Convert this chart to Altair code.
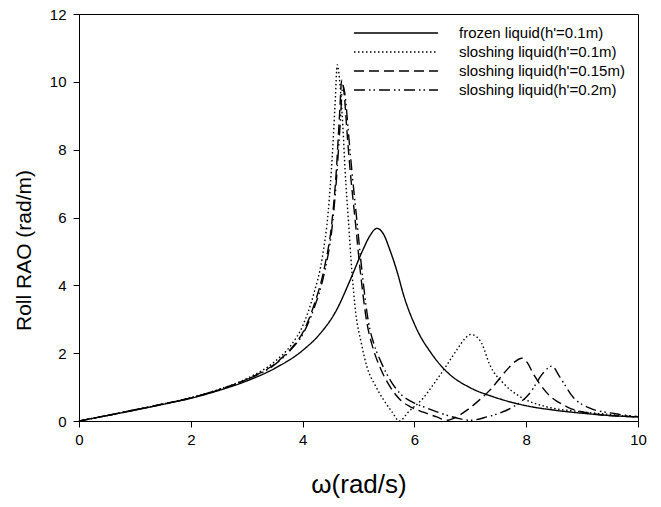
import altair as alt
import pandas as pd

# Series labels (legend order)
series_names = [
    "frozen liquid(h'=0.1m)",
    "sloshing liquid(h'=0.1m)",
    "sloshing liquid(h'=0.15m)",
    "sloshing liquid(h'=0.2m)",
]

# Frozen liquid, h' = 0.1 m
frozen_w = [0, 0.5, 1.0, 1.5, 2.0, 2.5, 3.0, 3.5, 4.0, 4.3, 4.6, 4.85, 5.08, 5.2,
            5.33, 5.45, 5.56, 5.7, 5.8, 6.03, 6.3, 6.58, 7.0, 7.4, 8.0, 8.5, 9.0, 9.5, 10.0]
frozen_rao = [0, 0.16, 0.32, 0.49, 0.67, 0.90, 1.18, 1.55, 2.08, 2.55, 3.25, 4.15, 5.05, 5.45,
              5.68, 5.5, 5.05, 4.35, 3.75, 2.75, 2.0, 1.45, 0.98, 0.72, 0.45, 0.32, 0.23, 0.16, 0.12]

# Sloshing liquid, h' = 0.1 m
slosh10_w = [0, 0.5, 1.0, 1.5, 2.0, 2.5, 3.0, 3.5, 3.8, 4.0, 4.2, 4.35, 4.46, 4.53, 4.58, 4.62,
             4.67, 4.72, 4.76, 4.82, 4.88, 4.95, 5.05, 5.15, 5.3, 5.45, 5.6, 5.73, 5.9, 6.16,
             6.35, 6.52, 6.76, 6.9, 7.0, 7.1, 7.2, 7.35, 7.6, 7.89, 8.36, 8.95, 9.5, 10.0]
slosh10_rao = [0, 0.16, 0.33, 0.5, 0.69, 0.93, 1.25, 1.75, 2.25, 2.8, 3.75, 4.8, 6.2, 7.8, 9.3, 10.5,
               9.9, 8.7, 7.4, 5.9, 4.45, 3.2, 2.3, 1.6, 1.05, 0.62, 0.27, 0.0, 0.28, 0.68,
               1.1, 1.5, 2.1, 2.42, 2.55, 2.5, 2.3, 1.65, 1.1, 0.72, 0.42, 0.28, 0.19, 0.12]

# Sloshing liquid, h' = 0.15 m
slosh15_w = [0, 0.5, 1.0, 1.5, 2.0, 2.5, 3.0, 3.5, 3.8, 4.0, 4.2, 4.4, 4.52, 4.6, 4.66, 4.70,
             4.74, 4.8, 4.85, 4.94, 5.03, 5.15, 5.25, 5.38, 5.55, 5.75, 5.95, 6.16, 6.4, 6.58,
             6.75, 6.94, 7.15, 7.35, 7.65, 7.8, 7.92, 8.02, 8.12, 8.37, 8.73, 9.26, 10.0]
slosh15_rao = [0, 0.16, 0.33, 0.5, 0.68, 0.92, 1.23, 1.68, 2.15, 2.6, 3.4, 4.6, 5.8, 7.3, 9.0, 10.05,
               9.7, 8.4, 7.4, 5.93, 4.45, 2.9, 2.2, 1.6, 1.05, 0.62, 0.4, 0.26, 0.12, 0.02,
               0.12, 0.32, 0.6, 0.91, 1.5, 1.75, 1.85, 1.72, 1.41, 0.83, 0.42, 0.2, 0.12]

# Sloshing liquid, h' = 0.2 m
slosh20_w = [0, 0.5, 1.0, 1.5, 2.0, 2.5, 3.0, 3.5, 3.8, 4.0, 4.2, 4.4, 4.52, 4.6, 4.67, 4.72,
             4.76, 4.82, 4.88, 4.97, 5.06, 5.18, 5.28, 5.4, 5.57, 5.75, 5.95, 6.16, 6.4, 6.58,
             6.8, 7.0, 7.3, 7.55, 7.77, 8.07, 8.3, 8.46, 8.6, 8.84, 9.14, 9.57, 10.0]
slosh20_rao = [0, 0.16, 0.33, 0.5, 0.68, 0.92, 1.22, 1.66, 2.12, 2.55, 3.3, 4.45, 5.6, 7.0, 8.7, 9.9,
               9.6, 8.5, 7.4, 5.93, 4.45, 2.9, 2.25, 1.75, 1.2, 0.8, 0.57, 0.42, 0.27, 0.17,
               0.07, 0.02, 0.12, 0.25, 0.42, 0.83, 1.41, 1.62, 1.3, 0.7, 0.38, 0.22, 0.13]

# Line styles: solid, dotted, dashed, dash-dot-dot
dash_styles = [[1, 0], [1.5, 2.5], [10, 5], [11, 4, 1.5, 3, 1.5, 4]]

frames = []
for name, w, r in zip(series_names,
                      [frozen_w, slosh10_w, slosh15_w, slosh20_w],
                      [frozen_rao, slosh10_rao, slosh15_rao, slosh20_rao]):
    frames.append(pd.DataFrame({"omega": w, "rao": r, "series": name}))
df = pd.concat(frames, ignore_index=True)

FONT = "Liberation Sans"

chart = alt.Chart(df).mark_line(
    color="black", strokeWidth=1.4, interpolate="monotone"
).encode(
    x=alt.X(
        "omega:Q",
        scale=alt.Scale(domain=[0, 10], nice=False, zero=False),
        axis=alt.Axis(
            values=[0, 2, 4, 6, 8, 10], title="ω(rad/s)", titleFontSize=26,
            titlePadding=24, labelFontSize=15, labelPadding=5, tickSize=6,
            labelFlush=False, labelOverlap=False, grid=False,
        ),
    ),
    y=alt.Y(
        "rao:Q",
        scale=alt.Scale(domain=[0, 12], nice=False, zero=False),
        axis=alt.Axis(
            values=[0, 2, 4, 6, 8, 10, 12], title="Roll RAO (rad/m)", titleFontSize=21,
            titleX=-45, titleY=236, labelFontSize=15, labelPadding=7, tickSize=6,
            labelFlush=False, labelOverlap=False, grid=False,
        ),
    ),
    strokeDash=alt.StrokeDash(
        "series:N",
        sort=series_names,
        scale=alt.Scale(domain=series_names, range=dash_styles),
        legend=alt.Legend(
            title=None, orient="none", legendX=274, legendY=9.5,
            symbolType="stroke", symbolSize=7056, symbolStrokeWidth=1.4,
            symbolStrokeColor="black", clipHeight=19, rowPadding=0, padding=0,
            labelFontSize=15, labelFont=FONT, labelColor="black", labelOffset=20,
            labelLimit=300,
        ),
    ),
).properties(
    width=559,
    height=407,
    autosize=alt.AutoSizeParams(type="none"),
    padding={"left": 79, "top": 14, "right": 23, "bottom": 86},
    background="white",
).configure_view(
    stroke="black", strokeWidth=1
).configure_axis(
    domainColor="black", tickColor="black", labelColor="black", titleColor="black",
    labelFont=FONT, titleFont=FONT, titleFontWeight="normal", domainWidth=1, tickWidth=1,
)

chart.save("out.html", embed_options={"renderer": "svg", "actions": False})
